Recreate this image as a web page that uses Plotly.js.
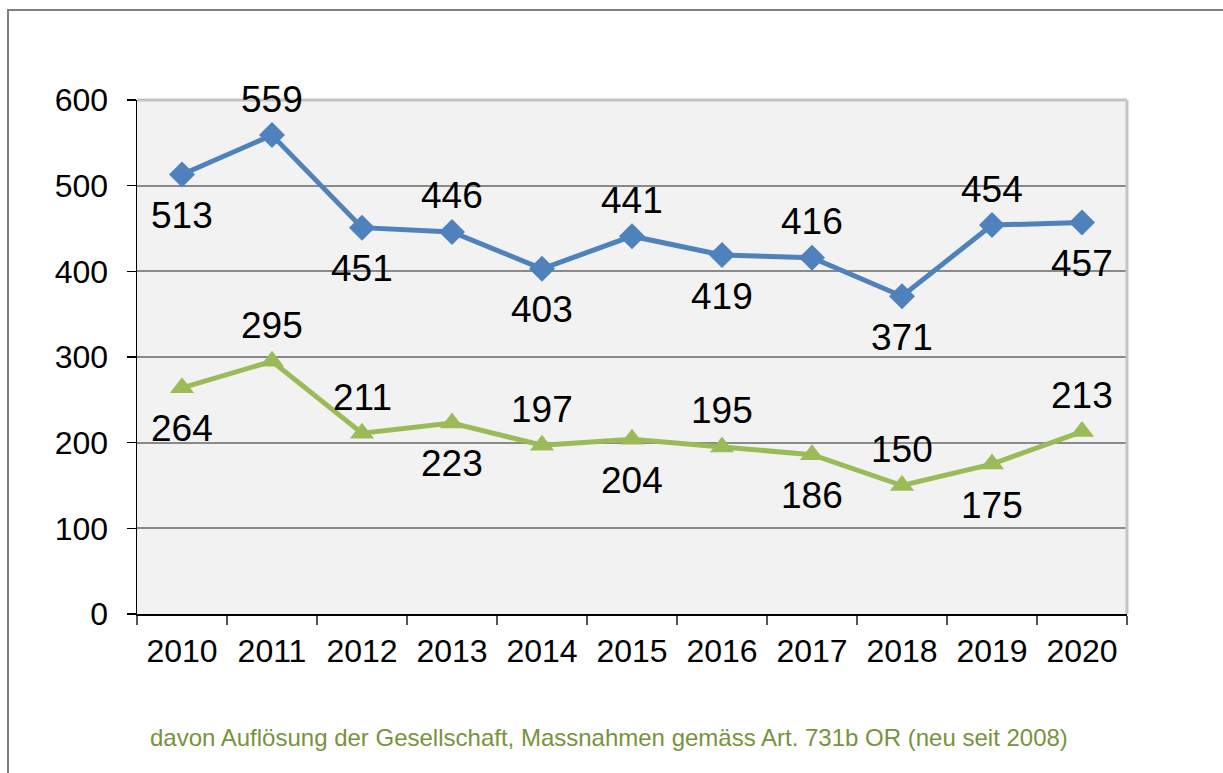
<!DOCTYPE html>
<html>
<head>
<meta charset="utf-8">
<script src="https://cdn.plot.ly/plotly-3.0.1.min.js"></script>
<style>html,body{margin:0;padding:0;background:#fff;}#chart{width:1223px;height:773px;}</style>
</head>
<body>
<div id="chart"></div>
<script>
const years = ["2010","2011","2012","2013","2014","2015","2016","2017","2018","2019","2020"];
const totalValues = [513, 559, 451, 446, 403, 441, 419, 416, 371, 454, 457];
const dissolutionValues = [264, 295, 211, 223, 197, 204, 195, 186, 150, 175, 213];
const yTicks = [0, 100, 200, 300, 400, 500, 600];
const footnote = "davon Auflösung der Gesellschaft, Massnahmen gemäss Art. 731b OR (neu seit 2008)";

// label placement (a = above, b = below)
const totalLabelSide = ["b","a","b","a","b","a","b","a","b","a","b"];
const dissolutionLabelSide = ["b","a","a","b","a","b","a","b","a","b","a"];

const FONT = "Liberation Sans, Arial, sans-serif";
const BLUE = "#4F81BD";
const GREEN = "#9BBB59";

function labels(vals, sides) {
  return vals.map((v, i) => ({
    x: i, y: v, xref: "x", yref: "y",
    text: String(v), showarrow: false,
    xanchor: "center", yanchor: "middle",
    yshift: sides[i] === "a" ? 36 : -41,
    font: {family: FONT, size: 37, color: "#000"}
  }));
}

const traces = [
  {x: years, y: totalValues, type: "scatter", mode: "lines+markers",
   line: {color: BLUE, width: 5},
   marker: {symbol: "diamond", size: 20, color: BLUE},
   hoverinfo: "skip", cliponaxis: false},
  {x: years, y: dissolutionValues, type: "scatter", mode: "lines+markers",
   line: {color: GREEN, width: 5},
   marker: {symbol: "triangle-up", size: 21, color: GREEN},
   hoverinfo: "skip", cliponaxis: false}
];

const annotations = labels(totalValues, totalLabelSide)
  .concat(labels(dissolutionValues, dissolutionLabelSide))
  .concat([{
    xref: "paper", yref: "paper", x: 0.4768, y: -0.2412,
    xanchor: "center", yanchor: "middle", showarrow: false,
    text: footnote, font: {family: FONT, size: 24, color: "#77933C"}
  }]);

const layout = {
  width: 1223, height: 773,
  margin: {l: 137, r: 96, t: 100, b: 159, pad: 0},
  paper_bgcolor: "#ffffff",
  plot_bgcolor: "#f2f2f2",
  showlegend: false,
  font: {family: FONT, color: "#000"},
  xaxis: {
    type: "category", categoryorder: "array", categoryarray: years,
    range: [-0.5, 10.5], fixedrange: true,
    showgrid: false, zeroline: false,
    showline: true, linecolor: "#000", linewidth: 1.5,
    ticks: "outside", tickson: "boundaries", ticklen: 9, tickcolor: "#555", tickwidth: 1.5,
    tickfont: {family: FONT, size: 32, color: "#000"},
    ticklabelstandoff: 8
  },
  yaxis: {
    range: [0, 600], fixedrange: true,
    tickvals: yTicks, ticktext: yTicks.map(String),
    showgrid: true, gridcolor: "#8a8a8a", gridwidth: 2,
    zeroline: false,
    showline: true, linecolor: "#000", linewidth: 1.5,
    ticks: "outside", ticklen: 9, tickcolor: "#000", tickwidth: 1.5,
    tickfont: {family: FONT, size: 32, color: "#000"},
    ticklabelstandoff: 12
  },
  shapes: [
    {type: "line", xref: "paper", yref: "paper", x0: 0, x1: 1, y0: 1, y1: 1,
     line: {color: "#c4c4c4", width: 3}},
    {type: "line", xref: "paper", yref: "paper", x0: 1, x1: 1, y0: 0, y1: 1,
     line: {color: "#c4c4c4", width: 3}},
    {type: "rect", xref: "paper", yref: "paper", x0: -0.1303, x1: 1.3, y0: -0.5, y1: 1.1751,
     line: {color: "#7f7f7f", width: 2}, fillcolor: "rgba(0,0,0,0)"}
  ],
  annotations: annotations
};

Plotly.newPlot("chart", traces, layout, {staticPlot: true, displayModeBar: false});
</script>
</body>
</html>
